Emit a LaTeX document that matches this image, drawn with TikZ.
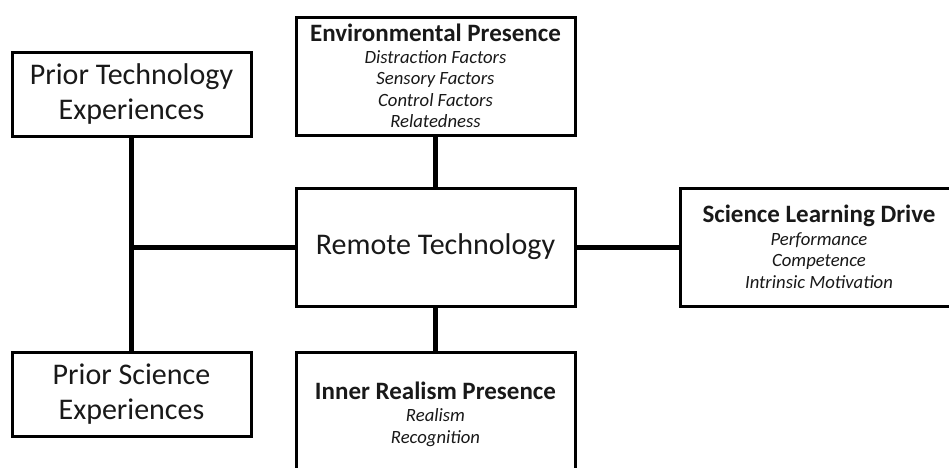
\documentclass[tikz,border=0pt]{standalone}
\usepackage{fontspec}
\setmainfont{Carlito}
\begin{document}
\begin{tikzpicture}[x=1pt,y=-1pt,
  box/.style={draw=black,line width=3pt,fill=white,inner sep=0pt,align=center,text=black!90},
  link/.style={draw=black,line width=5pt},
  bigtext/.style={font=\fontsize{30}{35}\selectfont},
  listtext/.style={font=\fontsize{18.7}{21.5}\selectfont\itshape},
  headtext/.style={}]
\useasboundingbox (0,0) rectangle (949,467);
\clip (0,0) rectangle (949,467);
\fill[white] (0,0) rectangle (949,467);

% outer boxes on the left
\node[box,bigtext,minimum width=239pt,minimum height=84pt] (ptech) at (131.5,94)
  {Prior Technology\\Experiences};
\node[box,bigtext,minimum width=239pt,minimum height=84pt] (psci) at (131.5,394)
  {Prior Science\\Experiences};

% central column
\node[box,listtext,minimum width=279pt,minimum height=118pt] (env) at (435.5,76)
  {{\upshape\bfseries\fontsize{25}{23}\selectfont Environmental Presence}\\
   Distraction Factors\\Sensory Factors\\Control Factors\\Relatedness};
\node[box,font=\fontsize{30}{34}\selectfont,minimum width=279pt,minimum height=118pt] (remote) at (435.5,247)
  {Remote Technology};
\node[box,listtext,minimum width=279pt,minimum height=124pt] (inner) at (435.5,414)
  {{\upshape\bfseries\fontsize{25}{23}\selectfont Inner Realism Presence}\\[1pt]
   Realism\\Recognition};

% right box
\node[box,listtext,minimum width=278pt,minimum height=118pt] (sci) at (819,247)
  {{\upshape\bfseries\fontsize{25}{23}\selectfont Science Learning Drive}\\[1pt]
   Performance\\Competence\\Intrinsic Motivation};

% connectors
\coordinate (j) at (ptech.south |- remote.west);
\draw[link] (ptech.south) -- (psci.north);
\draw[link] (j) -- (remote.west);
\draw[link] (env.south) -- (remote.north);
\draw[link] (remote.south) -- (inner.north);
\draw[link] (remote.east) -- (sci.west);
\end{tikzpicture}
\end{document}
